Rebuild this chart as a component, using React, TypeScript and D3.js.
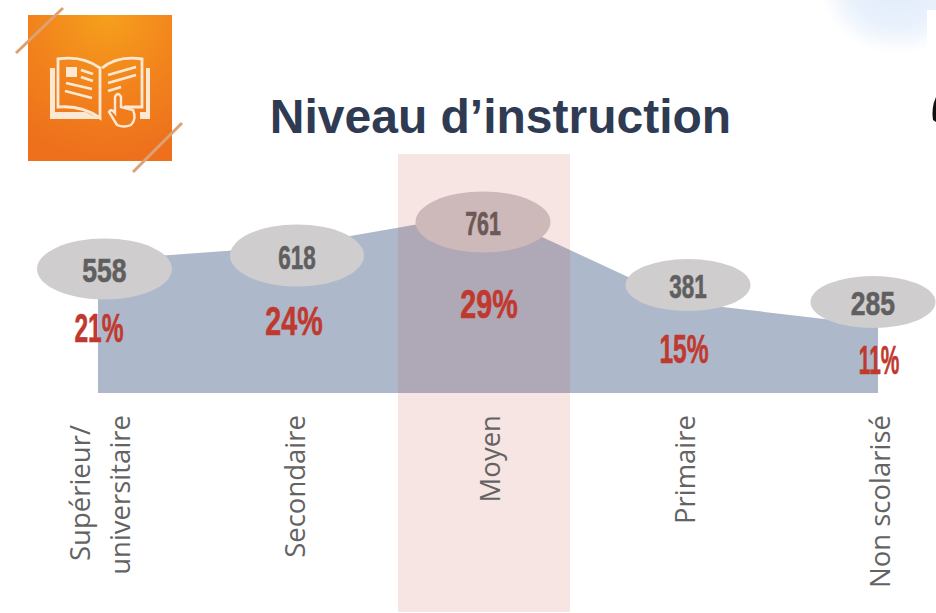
import React from "react";
import * as d3 from "d3";

const categories = [["Supérieur/", "universitaire"], ["Secondaire"], ["Moyen"], ["Primaire"], ["Non scolarisé"]];
const counts = [558, 618, 761, 381, 285];
const shares = ["21%", "24%", "29%", "15%", "11%"];

// Layout of the callouts (offsets from each category position and vertical placement)
const bubbleDx = [6.5, 4, -5, 5, -5];
const bubbleCy = [269, 255.5, 222, 285, 302];
const bubbleRx = [67.5, 67, 67.5, 62.5, 62.5];
const bubbleRy = [30.5, 31, 30.5, 26, 26];
const countBaseline = [281.7, 269, 235, 297.7, 315];
const countSqueeze = [0.78, 0.66, 0.63, 0.66, 0.78];
const shareBaseline = [342, 335, 317.7, 362.7, 374];
const shareSqueeze = [0.6, 0.7, 0.7, 0.6, 0.51];
const labelBaselines = [[90, 130], [305], [499.5], [694.5], [890]];
const labelStarts = [[425, 415], [415], [415], [415], [415]];

const x = d3.scalePoint<number>().domain(d3.range(categories.length)).range([98, 878]);
const y = d3.scaleLinear().domain([0, 761]).range([393, 212]);
const areaPath = d3.area<number>().x((_, i) => x(i)!).y0(y(0)).y1((d) => y(d))(counts)!;

const BOLD = "'Liberation Sans', Arial, sans-serif";

function Condensed(props: { x: number; y: number; sx: number; size: number; fill: string; children: React.ReactNode }) {
  return (
    <text
      transform={`translate(${props.x},${props.y}) scale(${props.sx},1)`}
      textAnchor="middle"
      fontFamily={BOLD}
      fontWeight="700"
      fontSize={props.size}
      fill={props.fill}
      stroke={props.fill}
      strokeWidth={0.6}
    >
      {props.children}
    </text>
  );
}

function Icon() {
  const ink = "#fde9d3";
  return (
    <g>
      <defs>
        <radialGradient id="ig" cx="0.55" cy="0" r="1">
          <stop offset="0" stopColor="#f5a01f" />
          <stop offset="0.5" stopColor="#f2841f" />
          <stop offset="1" stopColor="#ee6f1e" />
        </radialGradient>
        <filter id="soft" x="-5%" y="-5%" width="110%" height="110%">
          <feGaussianBlur stdDeviation="0.6" />
        </filter>
      </defs>
      <rect x="28" y="15" width="144" height="146" fill="url(#ig)" filter="url(#soft)" />
      <path d="M16 53 L63 8 M133 172 L182 123" stroke="#dca274" strokeWidth="3" fill="none" filter="url(#soft)" />
      <g filter="url(#soft)">
        <g fill="none" stroke={ink} strokeWidth="2.8">
          <path d="M58 59 V107 Q82 105 100 118 V68 Q82 55 58 59 Z" />
          <path d="M102 68 Q118 55 142 59 V107 H124" />
          <path d="M66 83 L92 89 M65 91 L92 98 M81 70 L93 74 M81 77 L93 81" />
          <path d="M108 75 L136 67 M108 83 L136 75 M108 91 L121 87" />
        </g>
        <rect x="66" y="67" width="11" height="10" fill={ink} />
        <path d="M50 68 H55 V112 H85 L100 119 H50 Z M146 68 H150 V119 H140 V112 H146 Z" fill={ink} />
        <path d="M115 97 Q118 91 121 97 V107 L133 110 Q137 119 131 125 Q124 128 117 125 L109 112 Q111 108 115 113 Z" fill="#f07c1f" stroke={ink} strokeWidth="2.4" />
      </g>
    </g>
  );
}

export default function App() {
  return (
    <svg width={936} height={613} style={{ position: "absolute", left: 0, top: 0, background: "#fff" }}>
      <defs>
        <radialGradient id="sky" cx="0.5" cy="0.5" r="0.5">
          <stop offset="0" stopColor="#e0ebfa" />
          <stop offset="0.6" stopColor="#e9f1fc" />
          <stop offset="1" stopColor="#ffffff" />
        </radialGradient>
      </defs>
      <ellipse cx="897" cy="-14" rx="78" ry="68" fill="url(#sky)" />
      <rect x="927" y="10" width="9" height="140" fill="#fff" />
      <path d="M936 97 Q931 108 933 120 L936 122 Z" fill="#111" />
      <Icon />
      <text x="500.5" y="133" textAnchor="middle" fontFamily={BOLD} fontWeight="700" fontSize="48" fill="#2f3b52">
        Niveau d’instruction
      </text>
      <path d={areaPath} fill="#adb9cb" />
      {counts.map((d, i) => (
        <g key={i}>
          <ellipse cx={x(i)! + bubbleDx[i]} cy={bubbleCy[i]} rx={bubbleRx[i]} ry={bubbleRy[i]} fill="#cfcdce" />
          <Condensed x={x(i)! + bubbleDx[i]} y={countBaseline[i]} sx={countSqueeze[i]} size={34} fill="#5f5f5f">
            {d}
          </Condensed>
        </g>
      ))}
      <rect x="398" y="154" width="172" height="458" fill="#c0392b" fillOpacity="0.13" />
      {shares.map((s, i) => (
        <Condensed key={s} x={x(i)! + 1} y={shareBaseline[i]} sx={shareSqueeze[i]} size={41} fill="#c0392f">
          {s}
        </Condensed>
      ))}
      {categories.map((lines, i) =>
        lines.map((line, k) => (
          <text
            key={`${i}-${k}`}
            transform={`translate(${labelBaselines[i][k]},${labelStarts[i][k]}) rotate(-90)`}
            textAnchor="end"
            fontFamily="'Open Sans', sans-serif"
            fontSize="27.5"
            fill="#636363"
          >
            {line}
          </text>
        ))
      )}
    </svg>
  );
}
